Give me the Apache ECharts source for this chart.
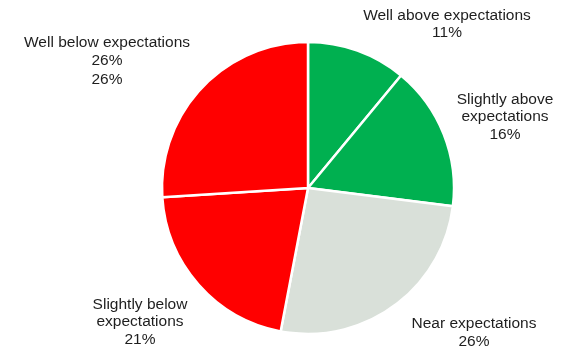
<!DOCTYPE html>
<html>
<head>
<meta charset="utf-8">
<script src="https://cdn.jsdelivr.net/npm/echarts@6/dist/echarts.min.js"></script>
<style>
  html, body { margin: 0; padding: 0; background: #ffffff; }
  #chart { width: 561px; height: 349px; }
</style>
</head>
<body>
<div id="chart"></div>
<script>
// Survey outcome shares, clockwise from the top
const categories = [
  'Well above expectations',
  'Slightly above\nexpectations',
  'Near expectations',
  'Slightly below\nexpectations',
  'Well below expectations\n26%'
];
const shares = [11, 16, 26, 21, 26];
const sliceColors = ['#00B050', '#00B050', '#D9E0D9', '#FF0000', '#FF0000'];

// Label anchor points (label block centre, px) and line spacing
const labelSpots = [
  [447, 24],
  [505, 117],
  [474, 333],
  [140, 322],
  [107, 61]
];
const labelLineHeights = [17, 17.5, 18, 17.5, 18.5];

const chart = echarts.init(document.getElementById('chart'), null, { renderer: 'canvas' });

chart.setOption({
  animation: false,
  series: [{
    type: 'pie',
    center: [308, 188],
    radius: [0, 146],
    startAngle: 90,
    clockwise: true,
    avoidLabelOverlap: false,
    data: categories.map((name, i) => ({
      name: name,
      value: shares[i],
      itemStyle: { color: sliceColors[i] },
      label: { lineHeight: labelLineHeights[i] }
    })),
    itemStyle: { borderColor: '#ffffff', borderWidth: 2.5 },
    label: {
      show: true,
      position: 'outside',
      formatter: p => p.name + '\n' + p.value + '%',
      fontFamily: "'Liberation Sans', Arial, sans-serif",
      fontSize: 15.5,
      color: '#1e1e1e',
      align: 'center'
    },
    labelLine: { show: false },
    labelLayout: params => ({
      x: labelSpots[params.dataIndex][0],
      y: labelSpots[params.dataIndex][1],
      align: 'center',
      verticalAlign: 'middle'
    }),
    emphasis: { disabled: true }
  }]
});
</script>
</body>
</html>
